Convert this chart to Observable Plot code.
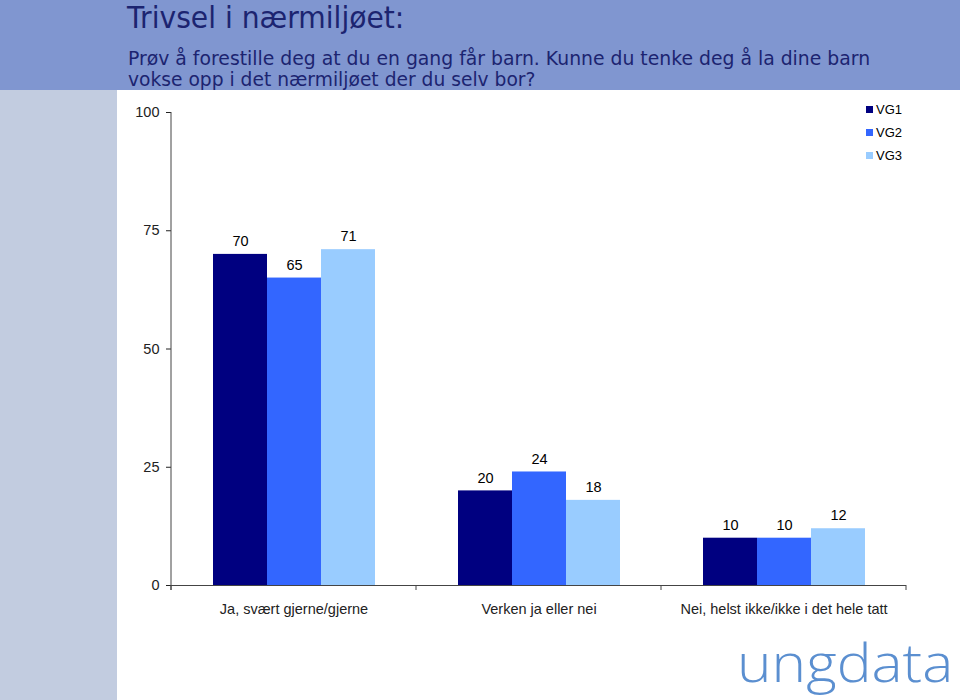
<!DOCTYPE html>
<html><head><meta charset="utf-8">
<script src="https://cdn.jsdelivr.net/npm/d3@7"></script>
<script src="https://cdn.jsdelivr.net/npm/@observablehq/plot@0.6"></script>
<style>
body{margin:0;background:#fff;}
#wrap{position:relative;width:960px;height:700px;overflow:hidden;font-family:"Liberation Sans",Arial,sans-serif;}
#header{position:absolute;left:0;top:0;width:960px;height:90px;background:#8096d0;}
#strip{position:absolute;left:0;top:90px;width:117px;height:610px;background:#c2cce0;}
#chart{position:absolute;left:117px;top:90px;}
.t{position:absolute;white-space:nowrap;font-family:"DejaVu Sans",Verdana,sans-serif;color:#1c2470;transform-origin:0 0;line-height:1;}
#legend{position:absolute;left:866px;top:98px;font-family:"Liberation Sans",Arial,sans-serif;font-size:13px;color:#000;}
#legend .row{display:flex;align-items:center;height:23px;}
#legend .sw{width:7px;height:7px;margin-right:3px;}
</style></head>
<body>
<div id="wrap">
  <div id="header"></div>
  <div id="strip"></div>
  <div class="t" id="title" data-w="277" style="left:127px;top:3px;font-size:30px;"></div>
  <div class="t" id="sub1" data-w="742" style="left:128px;top:48px;font-size:20px;"></div>
  <div class="t" id="sub2" data-w="407" style="left:128px;top:69px;font-size:20px;"></div>
  <div id="chart"></div>
  <div id="legend"></div>
  <div class="t" id="logo" data-w="216" style="left:737px;top:634px;font-size:54px;font-family:'Open Sans','DejaVu Sans',sans-serif;font-weight:300;color:#5b8fd0;"></div>
</div>
<script>
const titleText = "Trivsel i nærmiljøet:";
const subtitleLines = ["Prøv å forestille deg at du en gang får barn. Kunne du tenke deg å la dine barn", "vokse opp i det nærmiljøet der du selv bor?"];
const logoText = "ungdata";

const categories = ["Ja, svært gjerne/gjerne", "Verken ja eller nei", "Nei, helst ikke/ikke i det hele tatt"];
const series = ["VG1", "VG2", "VG3"];
const vg1 = [70, 20, 10];
const vg2 = [65, 24, 10];
const vg3 = [71, 18, 12];
const colors = ["#000080", "#3366ff", "#99ccff"];
const yTicks = [0, 25, 50, 75, 100];

const seriesValues = [vg1, vg2, vg3];
const data = categories.flatMap((c, i) => seriesValues.map((arr, j) => ({category: c, series: series[j], value: arr[i]})));

document.getElementById("title").textContent = titleText;
document.getElementById("sub1").textContent = subtitleLines[0];
document.getElementById("sub2").textContent = subtitleLines[1];
document.getElementById("logo").textContent = logoText;

const legend = document.getElementById("legend");
series.forEach((s, i) => {
  const row = document.createElement("div"); row.className = "row";
  const sw = document.createElement("div"); sw.className = "sw"; sw.style.background = colors[i];
  const lb = document.createElement("span"); lb.textContent = s;
  row.appendChild(sw); row.appendChild(lb); legend.appendChild(row);
});

const plot = Plot.plot({
  width: 843, height: 610,
  marginLeft: 53, marginRight: 53, marginTop: 22, marginBottom: 115,
  style: {background: "transparent", fontFamily: "Liberation Sans, Arial, sans-serif", fontSize: "14.5px", color: "#222"},
  facet: {data, x: "category"},
  fx: {domain: categories, padding: 0, label: null, axis: "bottom", tickSize: 0, tickPadding: 18},
  x: {domain: series, paddingInner: 0, paddingOuter: 0.76, axis: null},
  y: {domain: [0, 100], ticks: yTicks, tickSize: 5, tickPadding: 7, label: null},
  color: {domain: series, range: colors},
  marks: [
    Plot.barY(data, {x: "series", y: "value", fill: "series"}),
    Plot.text(data, {x: "series", y: "value", text: d => String(d.value), dy: -13, fontSize: 14.5, fill: "#000"}),
    Plot.ruleY([0], {stroke: "#444"})
  ]
});
document.getElementById("chart").appendChild(plot);

// axis line and category boundary ticks from the scales
const ys = plot.scale("y"), fxs = plot.scale("fx");
const y0 = ys.apply(0), y100 = ys.apply(100);
const starts = categories.map(c => fxs.apply(c));
const bounds = [...starts, starts[starts.length - 1] + fxs.bandwidth];
const g = d3.select(plot).append("g").attr("stroke", "#444").attr("stroke-width", 1);
g.append("line").attr("x1", bounds[0]).attr("x2", bounds[0]).attr("y1", y100).attr("y2", y0 + 5);
bounds.forEach(b => g.append("line").attr("x1", b).attr("x2", b).attr("y1", y0).attr("y2", y0 + 5));

// fit header texts horizontally
document.querySelectorAll(".t[data-w]").forEach(el => {
  const w = el.offsetWidth;
  const target = +el.dataset.w;
  el.style.transform = `scaleX(${target / w})`;
});
</script>
</body></html>
